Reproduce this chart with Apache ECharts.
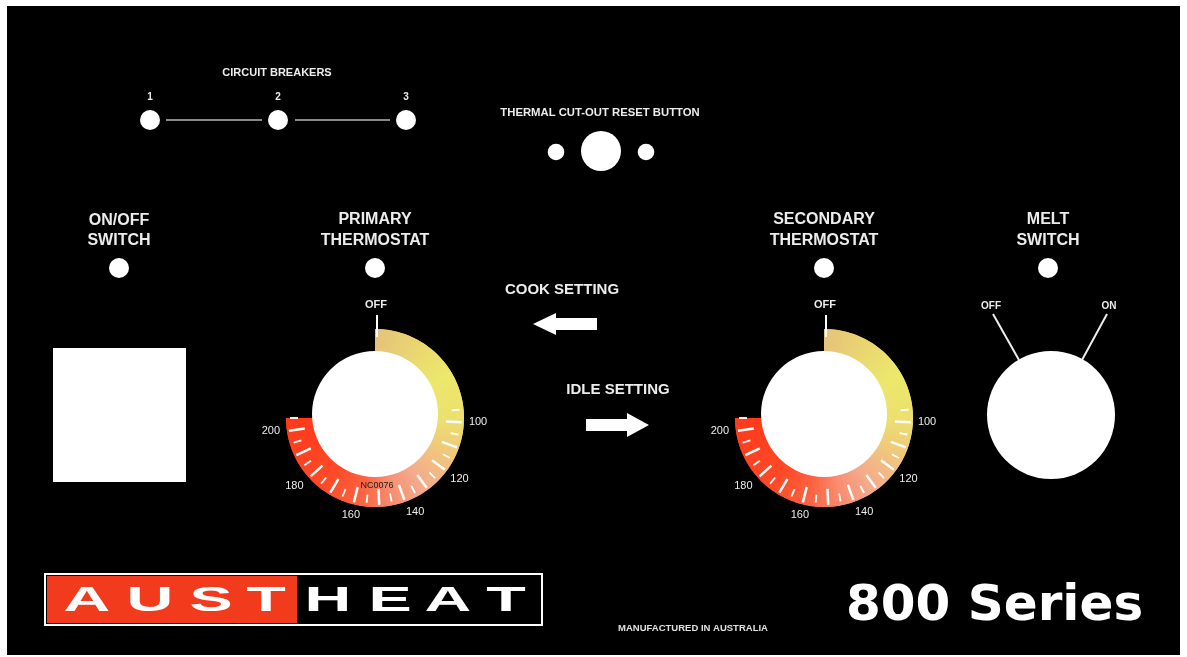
<!DOCTYPE html>
<html><head><meta charset="utf-8">
<script src="https://cdn.jsdelivr.net/npm/echarts@6/dist/echarts.min.js"></script>
<style>html,body{margin:0;padding:0;background:#fff}#c{width:1187px;height:657px}</style>
</head><body><div id="c"></div>
<script>
// ---------- data ----------
const breakerLabels = ['1', '2', '3'];
const dialTitles = [['PRIMARY', 'THERMOSTAT'], ['SECONDARY', 'THERMOSTAT']];
const dialRange = [45, 205];          // OFF position .. end of scale
const majorTickRange = [100, 200];    // long ticks every 10
const minorTickRange = [95, 205];     // short ticks every 10 (offset 5)
const tickStep = 10;
const scaleLabels = [100, 120, 140, 160, 180, 200];
const meltPositions = ['OFF', 'ON'];
const brandLeft = ['A', 'U', 'S', 'T'];
const brandRight = ['H', 'E', 'A', 'T'];

// ---------- styling / layout ----------
const FONT = '"Liberation Sans", Arial, sans-serif';
const TXT = '#ececec';
const SWEEP = 270;                         // degrees from OFF to scale end
const DEG = SWEEP / (dialRange[1] - dialRange[0]);
const angleOf = v => 90 - (v - dialRange[0]) * DEG;
const dialCenters = [[375, 418], [824, 418]];
const bandR = 89, bandW = 45;

const bandStops = [
  [0.00, '#e6c27c'], [0.12, '#ead870'], [0.22, '#ece86c'], [0.34, '#ecdf6e'],
  [0.44, '#f0c57e'], [0.54, '#f4aa8c'], [0.62, '#f88f72'], [0.70, '#fc6442'],
  [0.80, '#ff4a28'], [1.00, '#ff3a1c']
];
function h2r(h){return [1,3,5].map(i=>parseInt(h.substr(i,2),16));}
function mix(t){
  t = Math.max(0, Math.min(1, t));
  for (let i=1;i<bandStops.length;i++){
    if (t<=bandStops[i][0]){
      const a=bandStops[i-1], b=bandStops[i];
      const u=(t-a[0])/(b[0]-a[0]);
      const ca=h2r(a[1]), cb=h2r(b[1]);
      return 'rgb('+ca.map((c,k)=>Math.round(c+(cb[k]-c)*u)).join(',')+')';
    }
  }
  return bandStops[bandStops.length-1][1];
}
const NSEG = 90;
// two interleaved layers so that segment seams are always backed by colour
const bandColorsA = [], bandColorsB = [];
for (let i=0;i<NSEG;i++) bandColorsA.push([(i+1)/NSEG, mix((i+0.5)/NSEG)]);
bandColorsB.push([0.5/NSEG, mix(0.25/NSEG)]);
for (let i=0;i<NSEG-1;i++) bandColorsB.push([(i+1.5)/NSEG, mix((i+1)/NSEG)]);
bandColorsB.push([1, mix(1-0.25/NSEG)]);

const hidden = {
  pointer:{show:false}, anchor:{show:false}, title:{show:false},
  detail:{show:false}, progress:{show:false}
};

const series = [];
const polar = [], angleAxis = [], radiusAxis = [];
dialCenters.forEach((c, di) => {
  [bandColorsA, bandColorsB].forEach((cols, li) => {
    series.push(Object.assign({
      type:'gauge', z:2+li, center:c, radius:bandR,
      startAngle:angleOf(dialRange[0]), endAngle:angleOf(dialRange[1]),
      min:dialRange[0], max:dialRange[1],
      axisLine:{show:true, lineStyle:{width:bandW, color:cols}},
      splitLine:{show:false}, axisTick:{show:false}, axisLabel:{show:false},
      data:[{value:dialRange[0]}]
    }, hidden));
  });
  // long ticks
  series.push(Object.assign({
    type:'gauge', z:5, center:c, radius:bandR,
    startAngle:angleOf(majorTickRange[0]), endAngle:angleOf(majorTickRange[1]),
    min:majorTickRange[0], max:majorTickRange[1],
    splitNumber:(majorTickRange[1]-majorTickRange[0])/tickStep,
    axisLine:{show:false, lineStyle:{width:1}},
    splitLine:{show:true, distance:1, length:16, lineStyle:{color:'#ffffff', width:2.5}},
    axisTick:{show:false}, axisLabel:{show:false},
    data:[{value:majorTickRange[0]}]
  }, hidden));
  // short ticks
  series.push(Object.assign({
    type:'gauge', z:5, center:c, radius:bandR,
    startAngle:angleOf(minorTickRange[0]), endAngle:angleOf(minorTickRange[1]),
    min:minorTickRange[0], max:minorTickRange[1],
    splitNumber:(minorTickRange[1]-minorTickRange[0])/tickStep,
    axisLine:{show:false, lineStyle:{width:1}},
    splitLine:{show:true, distance:3, length:8, lineStyle:{color:'#ffffff', width:1.8}},
    axisTick:{show:false}, axisLabel:{show:false},
    data:[{value:minorTickRange[0]}]
  }, hidden));
  // numeric labels around the dial
  const lblMin = 40, lblStep = 20;
  polar.push({center:[c[0]-1, c[1]-1], radius:88, z:8});
  angleAxis.push({
    polarIndex:di, type:'value', z:8,
    min:lblMin, max:lblMin + 360/DEG, interval:lblStep,
    startAngle:angleOf(lblMin), clockwise:true,
    axisLine:{show:false}, axisTick:{show:false}, splitLine:{show:false},
    axisLabel:{margin:7, color:TXT, fontSize:11, fontFamily:FONT,
      formatter:v => scaleLabels.indexOf(Math.round(v))>=0 ? String(Math.round(v)) : ''}
  });
  radiusAxis.push({polarIndex:di, show:false, type:'value', min:0, max:1});
});

// ---------- graphics ----------
const g = [];
const text = (x, y, s, size, extra) => g.push(Object.assign({
  type:'text', x:x, y:y, z:20,
  style:{text:s, fill:TXT, font:'bold '+size+'px '+FONT, align:'center', verticalAlign:'middle'}
}, extra||{}));
const circle = (x, y, r, z) => g.push({type:'circle', z:z||10, shape:{cx:x, cy:y, r:r}, style:{fill:'#ffffff'}});

g.push({type:'rect', z:0, shape:{x:7, y:6, width:1173, height:649}, style:{fill:'#000000'}});

// circuit breakers
text(277, 73, 'CIRCUIT BREAKERS', 11);
const bx = [150, 278, 406];
breakerLabels.forEach((s,i)=>{ text(bx[i], 97, s, 10); circle(bx[i], 120, 10); });
g.push({type:'line', z:9, shape:{x1:166,y1:120,x2:262,y2:120}, style:{stroke:'#b5b5b5', lineWidth:1.5}});
g.push({type:'line', z:9, shape:{x1:295,y1:120,x2:390,y2:120}, style:{stroke:'#b5b5b5', lineWidth:1.5}});

// thermal cut-out
text(600, 113, 'THERMAL CUT-OUT RESET BUTTON', 11.3);
circle(556, 152, 8.3); circle(601, 151, 20); circle(646, 152, 8.3);

// on/off switch
text(119, 221, 'ON/OFF', 16); text(119, 241, 'SWITCH', 16);
circle(119, 268, 10);
g.push({type:'rect', z:10, shape:{x:53, y:348, width:133, height:134}, style:{fill:'#ffffff'}});

// dial titles, off markers, knobs
dialCenters.forEach((c, i) => {
  text(c[0], 220, dialTitles[i][0], 16); text(c[0], 241, dialTitles[i][1], 16);
  circle(c[0], 268, 10);
  text(c[0]+1, 305, 'OFF', 11);
  g.push({type:'line', z:12, shape:{x1:c[0]+2, y1:315, x2:c[0]+2, y2:337}, style:{stroke:'#ffffff', lineWidth:2}});
  circle(c[0], 414, 63, 6);
});
text(377, 486, 'NC0076', 9, {style:{text:'NC0076', fill:'#1a1a1a', font:'9px '+FONT, align:'center', verticalAlign:'middle'}});

// cook / idle
text(562, 290, 'COOK SETTING', 15);
g.push({type:'polygon', z:10, shape:{points:[[533,324],[556,313],[556,318],[597,318],[597,330],[556,330],[556,335]]}, style:{fill:'#ffffff'}});
text(618, 390, 'IDLE SETTING', 15);
g.push({type:'polygon', z:10, shape:{points:[[586,419],[627,419],[627,413],[649,425],[627,437],[627,431],[586,431]]}, style:{fill:'#ffffff'}});

// melt switch
text(1048, 220, 'MELT', 16); text(1048, 241, 'SWITCH', 16);
circle(1048, 268, 10);
text(991, 306, meltPositions[0], 10); text(1109, 306, meltPositions[1], 10);
g.push({type:'line', z:9, shape:{x1:993,y1:314,x2:1019,y2:360}, style:{stroke:'#eeeeee', lineWidth:2}});
g.push({type:'line', z:9, shape:{x1:1107,y1:314,x2:1082,y2:360}, style:{stroke:'#eeeeee', lineWidth:2}});
circle(1051, 415, 64);

// brand
g.push({type:'rect', z:10, shape:{x:45, y:574, width:497, height:51}, style:{fill:'#000000', stroke:'#ffffff', lineWidth:2}});
g.push({type:'rect', z:11, shape:{x:47, y:576, width:250, height:47}, style:{fill:'#f23b1d'}});
const letterX = [87, 150, 211, 266, 328, 390, 448, 506];
brandLeft.concat(brandRight).forEach((s,i)=>{
  g.push({type:'text', z:20, x:letterX[i], y:601, scaleX:1.85,
    style:{text:s, fill:'#ffffff', font:'bold 35px '+FONT, align:'center', verticalAlign:'middle'}});
});
text(693, 628, 'MANUFACTURED IN AUSTRALIA', 9.5, {style:{text:'MANUFACTURED IN AUSTRALIA', fill:'#e0e0e0', font:'bold 9.5px '+FONT, align:'center', verticalAlign:'middle'}});
g.push({type:'text', z:20, x:846, y:607, style:{text:'800 Series', fill:'#ffffff', font:'bold 50px "DejaVu Sans", sans-serif', align:'left', verticalAlign:'middle'}});

const chart = echarts.init(document.getElementById('c'));
chart.setOption({
  backgroundColor:'#ffffff',
  animation:false,
  polar:polar, angleAxis:angleAxis, radiusAxis:radiusAxis,
  series:series,
  graphic:{elements:g}
});
</script></body></html>
